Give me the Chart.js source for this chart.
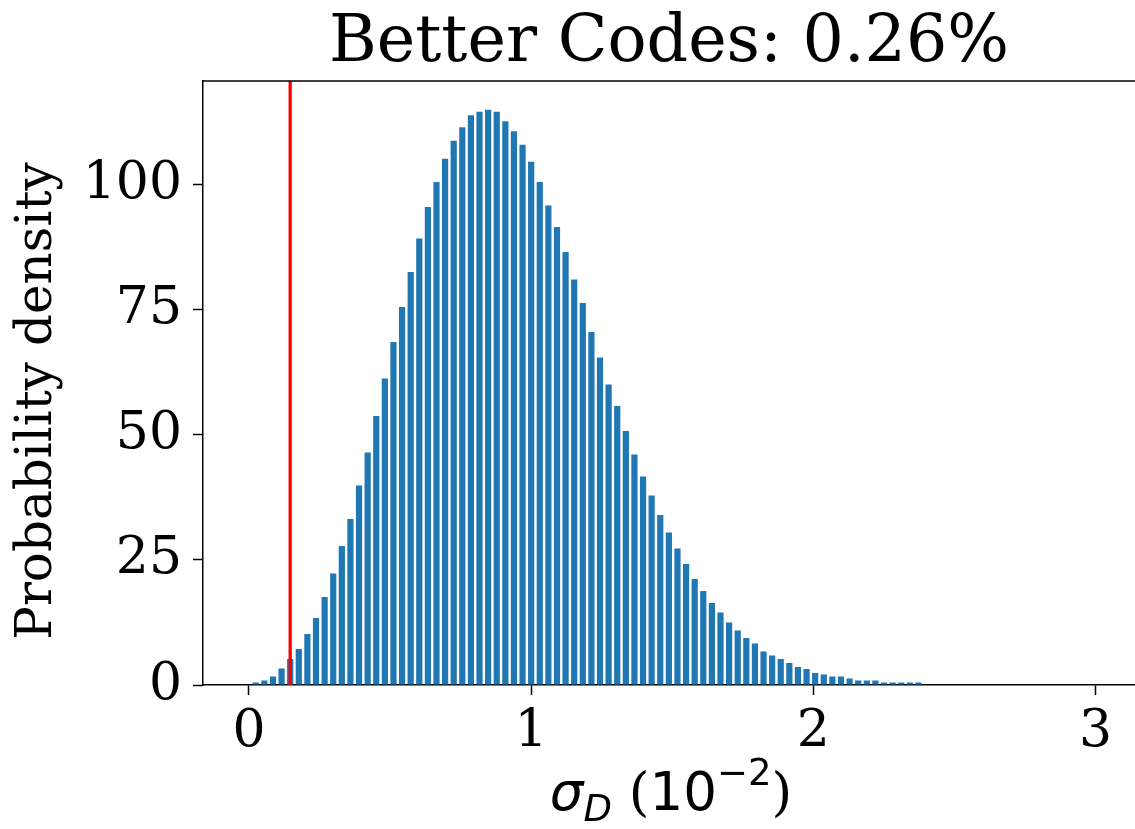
<!DOCTYPE html>
<html>
<head>
<meta charset="utf-8">
<script src="https://cdn.jsdelivr.net/npm/chart.js@4.4.1/dist/chart.umd.min.js"></script>
<style>
  html, body { margin: 0; padding: 0; background: #fff; }
  #wrap { width: 1135px; height: 829px; }
</style>
</head>
<body>
<div id="wrap"><canvas id="histChart" width="1135" height="829"></canvas></div>
<script>
// bin centres (sigma_D, units of 1e-2)
const binCenters = [
    0.0240, 0.0545, 0.0850, 0.1155, 0.1460, 0.1765, 0.2070, 0.2375, 0.2680, 0.2985,
    0.3290, 0.3595, 0.3900, 0.4205, 0.4510, 0.4815, 0.5120, 0.5425, 0.5730, 0.6035,
    0.6340, 0.6645, 0.6950, 0.7255, 0.7560, 0.7865, 0.8170, 0.8475, 0.8780, 0.9085,
    0.9390, 0.9695, 1.0000, 1.0305, 1.0610, 1.0915, 1.1220, 1.1525, 1.1830, 1.2135,
    1.2440, 1.2745, 1.3050, 1.3355, 1.3660, 1.3965, 1.4270, 1.4575, 1.4880, 1.5185,
    1.5490, 1.5795, 1.6100, 1.6405, 1.6710, 1.7015, 1.7320, 1.7625, 1.7930, 1.8235,
    1.8540, 1.8845, 1.9150, 1.9455, 1.9760, 2.0065, 2.0370, 2.0675, 2.0980, 2.1285,
    2.1590, 2.1895, 2.2200, 2.2505, 2.2810, 2.3115, 2.3420, 2.3725
];

// probability density per bin
const density = [
    0.5, 0.9, 1.7, 3.3, 5.2, 7.2, 10.2, 13.4, 17.6, 22.3,
    27.8, 33.2, 39.9, 46.5, 53.8, 61.3, 68.6, 75.6, 82.6, 89.3,
    95.6, 100.6, 105.2, 108.8, 111.5, 113.9, 114.6, 115.0, 114.6, 112.7,
    110.7, 108.0, 104.6, 100.6, 95.9, 91.6, 86.6, 81.1, 76.4, 70.6,
    65.5, 60.1, 55.8, 50.8, 46.1, 41.7, 37.9, 34.0, 30.5, 27.3,
    24.2, 21.2, 18.8, 16.4, 14.5, 12.5, 10.9, 9.4, 8.3, 6.7,
    5.9, 5.2, 4.4, 3.6, 3.2, 2.4, 2.1, 1.7, 1.7, 1.3,
    0.9, 0.9, 0.9, 0.5, 0.5, 0.5, 0.5, 0.5
];

const thresholdX = 0.146;   // red line
const xTicks = [0, 1, 2, 3];
const yTicks = [0, 25, 50, 75, 100];
const xRange = [-0.163, 3.14];
const yRange = [0, 120.77];

const serif = "'DejaVu Serif', serif";
const sans = "'DejaVu Sans', sans-serif";

// top spine, y label, x label with sub/superscripts
const extrasPlugin = {
    id: 'extras',
    afterDraw(chart) {
        const ctx = chart.ctx;
        const area = chart.chartArea;
        ctx.save();
        ctx.strokeStyle = '#000';
        ctx.lineWidth = 1.5;
        ctx.beginPath();
        ctx.moveTo(area.left, area.top);
        ctx.lineTo(area.right, area.top);
        ctx.stroke();

        ctx.fillStyle = '#000';

        // y label
        ctx.save();
        ctx.translate(38, 401);
        ctx.rotate(-Math.PI / 2);
        ctx.font = '50px ' + serif;
        ctx.textAlign = 'center';
        ctx.textBaseline = 'middle';
        ctx.fillText('Probability density', 0, 0);
        ctx.restore();

        // x label
        const parts = [
            { t: 'σ', font: 'italic 53px ' + sans, dy: 0 },
            { t: 'D', font: 'italic 37px ' + sans, dy: 11 },
            { t: ' (', font: '53px ' + serif, dy: 0 },
            { t: '10', font: '53px ' + sans, dy: 0 },
            { t: '−2', font: '37px ' + sans, dy: -25 },
            { t: ')', font: '53px ' + serif, dy: 0 }
        ];
        let total = 0;
        parts.forEach(function(p) {
            ctx.font = p.font;
            p.w = ctx.measureText(p.t).width;
            total += p.w;
        });
        let x = 671 - total / 2;
        const base = 810;
        ctx.textBaseline = 'alphabetic';
        ctx.textAlign = 'left';
        parts.forEach(function(p) {
            ctx.font = p.font;
            ctx.fillText(p.t, x, base + p.dy);
            x += p.w;
        });
        ctx.restore();
    }
};

const ctx = document.getElementById('histChart').getContext('2d');
const histChart = new Chart(ctx, {
    data: {
        datasets: [
            {
                type: 'line',
                label: 'threshold',
                data: [{ x: thresholdX, y: yRange[0] }, { x: thresholdX, y: yRange[1] }],
                borderColor: '#ff0000',
                borderWidth: 3.3,
                pointRadius: 0,
                order: 0
            },
            {
                type: 'bar',
                label: 'density',
                data: binCenters.map(function(c, i) { return { x: c, y: density[i] }; }),
                backgroundColor: '#1f77b4',
                borderWidth: 0,
                categoryPercentage: 1.0,
                barPercentage: 0.72,
                order: 1
            }
        ]
    },
    options: {
        responsive: false,
        animation: false,
        devicePixelRatio: 1,
        layout: { padding: { left: 0, right: 0, top: 0, bottom: 0 } },
        plugins: {
            legend: { display: false },
            tooltip: { enabled: false },
            title: {
                display: true,
                fullSize: false,
                text: 'Better Codes: 0.26%',
                color: '#000',
                font: { family: serif, size: 65, weight: 'normal', lineHeight: 1 },
                padding: { top: 12, bottom: 4 }
            }
        },
        scales: {
            x: {
                type: 'linear',
                offset: false,
                min: xRange[0],
                max: xRange[1],
                afterBuildTicks: function(scale) {
                    scale.ticks = xTicks.map(function(v) { return { value: v }; });
                },
                afterFit: function(scale) { scale.height = 144; },
                grid: {
                    offset: false,
                    drawOnChartArea: false,
                    drawTicks: true,
                    tickLength: 10,
                    tickColor: '#000',
                    tickWidth: 1.5
                },
                border: { display: true, color: '#000', width: 1.5 },
                ticks: {
                    color: '#000',
                    font: { family: serif, size: 52 },
                    padding: 6,
                    maxRotation: 0,
                    autoSkip: false
                }
            },
            y: {
                type: 'linear',
                min: yRange[0],
                max: yRange[1],
                afterBuildTicks: function(scale) {
                    scale.ticks = yTicks.map(function(v) { return { value: v }; });
                },
                afterFit: function(scale) { scale.width = 203; },
                grid: {
                    drawOnChartArea: false,
                    drawTicks: true,
                    tickLength: 10,
                    tickColor: '#000',
                    tickWidth: 1.5
                },
                border: { display: true, color: '#000', width: 1.5 },
                ticks: {
                    color: '#000',
                    font: { family: serif, size: 52 },
                    padding: 11
                }
            }
        }
    },
    plugins: [extrasPlugin]
});
</script>
</body>
</html>
